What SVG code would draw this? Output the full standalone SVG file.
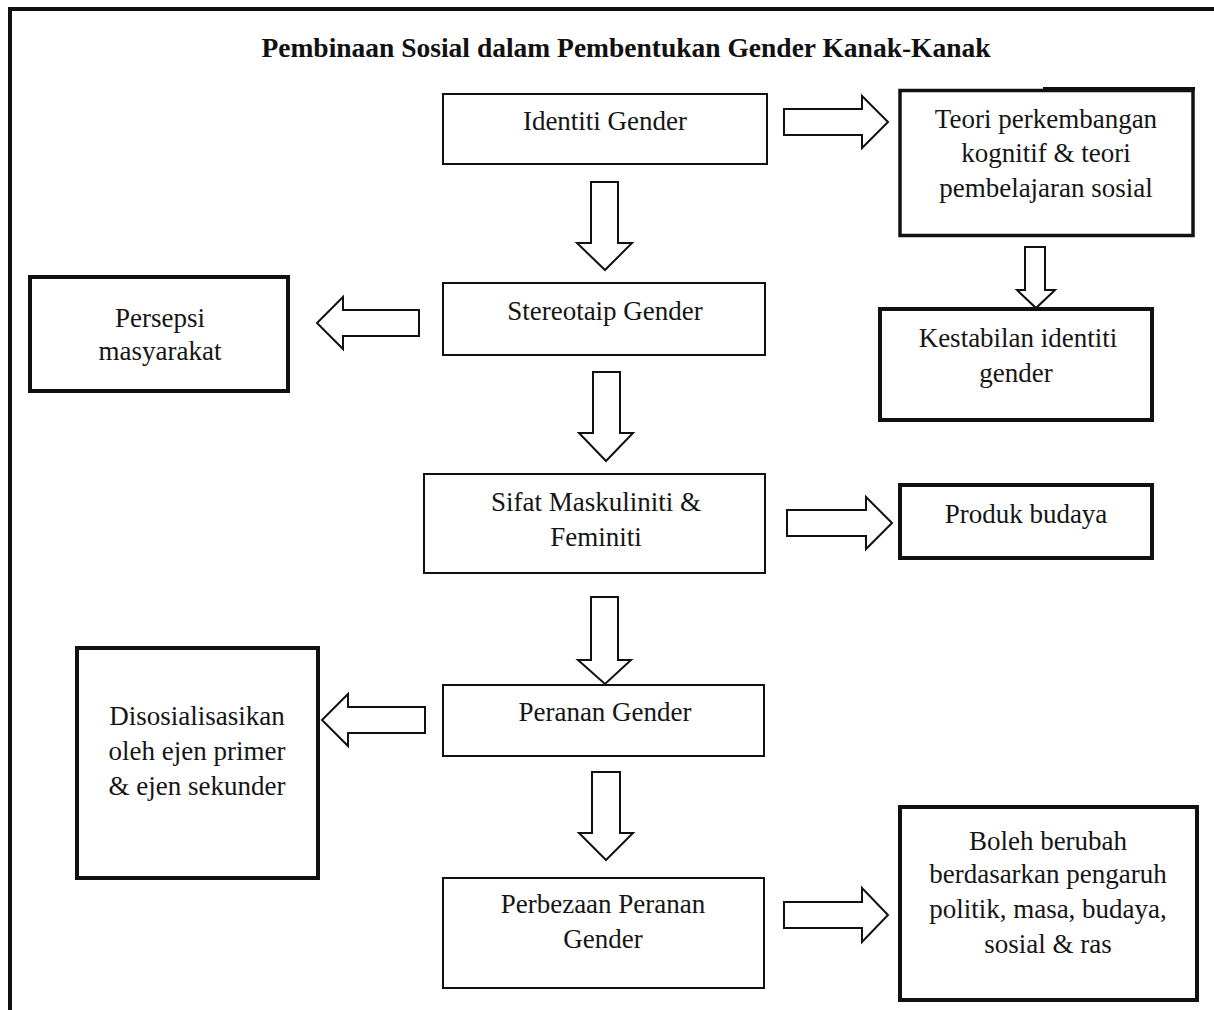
<svg xmlns="http://www.w3.org/2000/svg" width="1214" height="1010" viewBox="0 0 1214 1010">
<style>
.bg{fill:#fff}
.thin{fill:#fff;stroke:#111;stroke-width:2}
.thick{fill:#fff;stroke:#111;stroke-width:4}
.arrow{fill:#fff;stroke:#111;stroke-width:2;stroke-linejoin:miter}
.t{font-family:"Liberation Serif","Times New Roman",serif;font-size:27px;fill:#151515;text-anchor:middle}
.title{font-family:"Liberation Serif","Times New Roman",serif;font-size:27.5px;font-weight:bold;fill:#111;text-anchor:middle}
</style>
<rect class="bg" x="0" y="0" width="1214" height="1010"/>
<path d="M10,1010 V9 H1214" fill="none" stroke="#111" stroke-width="4"/>
<text class="title" x="626" y="57">Pembinaan Sosial dalam Pembentukan Gender Kanak-Kanak</text>

<g id="connectors">
<polygon class="arrow" points="784,109 862,109 862,96 888,122 862,148 862,135 784,135"/>
<polygon class="arrow" points="787,510 866,510 866,497 892,523 866,549 866,536 787,536"/>
<polygon class="arrow" points="784,902 862,902 862,888 888,915 862,942 862,928 784,928"/>
<polygon class="arrow" points="591,182 618,182 618,243 632,243 605,270 577,243 591,243"/>
<polygon class="arrow" points="593,372 620,372 620,433 633,433 606,461 579,433 593,433"/>
<polygon class="arrow" points="591,597 618,597 618,660 631,660 605,684 578,660 591,660"/>
<polygon class="arrow" points="592,772 620,772 620,833 633,833 606,860 579,833 592,833"/>
<polygon class="arrow" points="1025,247 1045,247 1045,290 1055,290 1036,308 1017,290 1025,290"/>
<polygon class="arrow" points="419,310 343,310 343,297 317,323 343,349 343,336 419,336"/>
<polygon class="arrow" points="425,707 348,707 348,694 322,720 348,746 348,733 425,733"/>
</g>

<g id="identiti">
<rect class="thin" x="443" y="94" width="324" height="70"/>
<text class="t" x="605" y="130">Identiti Gender</text>
</g>
<g id="teori">
<rect class="thick" x="900" y="90.5" width="293" height="145" style="stroke-width:3.5"/>
<line x1="1043" y1="88.5" x2="1195" y2="88.5" stroke="#111" stroke-width="3"/>
<text class="t" x="1046" y="128">Teori perkembangan</text>
<text class="t" x="1046" y="162">kognitif &amp; teori</text>
<text class="t" x="1046" y="197">pembelajaran sosial</text>
</g>
<g id="kestabilan">
<rect class="thick" x="880" y="309" width="272" height="111"/>
<text class="t" x="1018" y="347">Kestabilan identiti</text>
<text class="t" x="1016" y="382">gender</text>
</g>
<g id="stereotaip">
<rect class="thin" x="443" y="283" width="322" height="72"/>
<text class="t" x="605" y="320">Stereotaip Gender</text>
</g>
<g id="persepsi">
<rect class="thick" x="30" y="277" width="258" height="114"/>
<text class="t" x="160" y="327">Persepsi</text>
<text class="t" x="160" y="360">masyarakat</text>
</g>
<g id="sifat">
<rect class="thin" x="424" y="474" width="341" height="99"/>
<text class="t" x="596" y="511">Sifat Maskuliniti &amp;</text>
<text class="t" x="596" y="546">Feminiti</text>
</g>
<g id="produk">
<rect class="thick" x="900" y="485" width="252" height="73"/>
<text class="t" x="1026" y="523">Produk budaya</text>
</g>
<g id="peranan">
<rect class="thin" x="443" y="685" width="321" height="71"/>
<text class="t" x="605" y="721">Peranan Gender</text>
</g>
<g id="disosialisasikan">
<rect class="thick" x="77" y="648" width="241" height="230"/>
<text class="t" x="197" y="725">Disosialisasikan</text>
<text class="t" x="197" y="760">oleh ejen primer</text>
<text class="t" x="197" y="795">&amp; ejen sekunder</text>
</g>
<g id="perbezaan">
<rect class="thin" x="443" y="878" width="321" height="110"/>
<text class="t" x="603" y="913">Perbezaan Peranan</text>
<text class="t" x="603" y="948">Gender</text>
</g>
<g id="boleh">
<rect class="thick" x="900" y="807" width="297" height="193"/>
<text class="t" x="1048" y="850">Boleh berubah</text>
<text class="t" x="1048" y="883">berdasarkan pengaruh</text>
<text class="t" x="1048" y="918">politik, masa, budaya,</text>
<text class="t" x="1048" y="953">sosial &amp; ras</text>
</g>
</svg>
